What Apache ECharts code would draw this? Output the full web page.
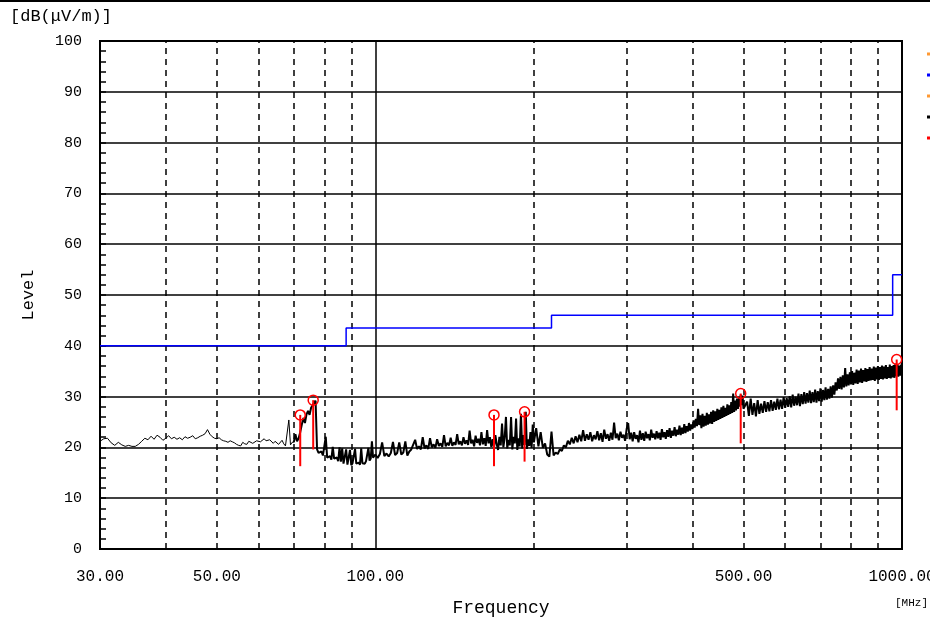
<!DOCTYPE html>
<html><head><meta charset="utf-8">
<script src="https://cdn.jsdelivr.net/npm/echarts@6/dist/echarts.min.js"></script>
<style>html,body{margin:0;padding:0;background:#fff}#c{width:930px;height:621px}</style>
</head><body><div id="c"></div>
<script>
// ---- axis / tick data ----
const yTicks = [0,10,20,30,40,50,60,70,80,90,100];
const xLabelFreqs = [30, 50, 100, 500, 1000];
const gridDashedFreqs = [40,50,60,70,80,90,200,300,400,500,600,700,800,900];
const gridSolidFreqs = [100];

// ---- limit line (MHz, dB(uV/m)) ----
const limitFreqs  = [30, 88, 88, 216, 216, 960, 960, 1000];
const limitLevels = [40, 40, 43.5, 43.5, 46, 46, 54, 54];

// ---- measured trace: receiver sweep bands (start MHz, step MHz, levels) ----
const bandAStart = 30, bandAStep = 0.5;
const bandALevels = [21.2,21.7,21.8,20.9,20.4,21.0,20.5,20.2,20.4,20.2,
 20.2,20.6,21.2,21.8,21.5,22.2,21.6,22.4,22.0,21.4,
 21.8,22.3,21.7,22.0,21.6,21.9,21.5,22.1,21.8,22.0,
 22.3,21.7,21.9,22.2,22.4,22.7,23.5,22.6,22.1,21.8,
 21.7,21.9,21.5,21.3,21.2,21.0,21.3,21.1,20.9,20.6,
 20.4,20.3,21.0,20.7,20.6,21.2,20.9,20.8,21.0,21.3,
 21.4,21.1,21.2,21.7,21.3,21.0,21.5,21.2,20.8,21.2,
 21.0,20.6,20.5,21.4,20.7,20.3,20.4,25.4,20.5,21.0];
const bandBStart = 70, bandBStep = 0.5;
const bandBLevels = [21.0,22.6,21.2,21.8,23.0,24.5,25.8,24.8,26.5,27.2,
 26.4,27.8,28.3,28.8,29.2,19.6,18.9,18.6,19.2,18.4,
 18.3,22.1,18.0,17.8,18.3,17.6,20.1,17.8,17.5,18.0,
 17.3,20.0,17.2,19.8,16.8,17.0,19.6,16.6,16.9,19.5,
 16.5,16.9,16.6,19.7,16.8,16.5,17.0,16.6,19.8,16.9,
 17.2,16.8,17.3,17.0,19.9,17.4,17.8,21.2,18.0,18.3];
const bandCStart = 100, bandCStep = 1;
const bandCLevels = [18.6,17.9,18.7,21.0,18.3,18.8,18.2,18.9,21.1,18.5,
 18.9,21.0,18.6,19.0,21.2,18.4,19.2,19.6,19.3,21.5,
 19.7,20.2,19.6,22.0,19.8,20.4,19.7,21.8,20.0,20.6,
 19.9,21.6,20.3,20.8,20.1,22.4,20.2,20.9,20.4,21.9,
 20.3,21.0,20.5,22.6,20.6,21.2,20.4,22.0,20.7,21.4,
 20.5,23.3,20.8,21.5,20.2,22.3,20.9,21.7,20.4,23.0,
 20.6,21.8,20.3,23.4,20.8,22.0,20.1,21.6,19.9,22.4,
 20.6,19.5,22.1,20.4,24.7,20.0,21.9,26.0,19.8,21.5,
 20.4,26.0,19.6,22.1,20.8,25.7,19.5,21.8,20.2,26.6,
 19.8,22.4,20.5,27.0,19.7,21.6,20.3,23.0,19.9,24.5];
const bandDStart = 200, bandDStep = 2;
const bandDLevels = [21.0,23.8,20.2,23.0,19.9,20.8,18.6,18.2,23.1,18.4,
 19.0,18.7,19.6,19.3,20.4,20.0,21.3,20.6,21.9,20.8,
 22.2,21.0,22.5,21.2,23.4,21.3,22.6,21.5,23.0,21.2,
 22.4,21.6,23.2,21.4,22.8,21.1,23.5,21.7,22.6,21.3,
 22.9,21.5,24.9,21.8,22.7,21.4,23.1,21.9,22.5,21.3,
 23.6,24.8,21.6,22.9,21.2,23.0,21.7,22.4,21.0,23.3,
 21.5,22.8,21.3,23.1,21.8,22.6,21.4,23.5,21.9,22.7,
 21.6,23.2,21.8,22.9,21.5,23.6,22.0,23.0,21.7,23.4,
 22.1,23.8,21.9,23.3,22.3,24.0,22.2,23.5,22.5,24.3,
 22.4,23.9,22.7,24.6,22.8,24.2,23.1,24.8,23.3,24.5,
 23.6,25.3,23.9,25.6,24.2,27.6,24.4,26.3,23.8,26.6,
 24.1,26.2,24.3,26.8,24.5,26.5,24.7,27.0,24.6,27.3,
 25.0,27.1,25.2,27.6,25.4,27.4,25.6,27.9,25.8,28.2,
 26.0,27.8,26.2,28.5,26.4,28.3,26.6,28.9,26.8,30.6,
 27.0,29.2,27.3,29.6,27.6,29.8,28.0,30.4,28.3,30.2,
 27.6];
const bandEStart = 504, bandEStep = 4;
const bandELevels = [27.4,29.0,26.2,29.6,
 26.4,28.7,26.1,29.3,26.6,28.6,26.8,29.1,27.0,28.9,
 27.1,29.3,27.2,29.0,27.4,29.6,27.5,29.4,27.6,29.9,
 27.8,29.7,28.0,30.1,27.9,30.4,28.2,30.0,28.3,30.6,
 28.1,30.5,28.5,30.9,28.6,30.7,28.8,31.2,28.7,30.9,
 28.9,31.4,28.8,31.1,29.1,31.6,29.0,31.3,29.3,31.8,
 29.4,31.5,29.6,32.0,29.8,32.2,30.4,32.8,31.2,33.6,
 31.5,33.9,31.4,34.2,31.8,35.6,32.0,34.4,32.2,34.8,
 32.4,35.0,32.3,34.7,32.6,35.3,32.5,35.1,32.8,35.5,
 32.7,35.2,33.0,35.6,32.9,35.4,33.1,35.8,33.2,35.5,
 33.3,35.9,33.1,35.7,33.4,36.0,33.3,35.8,33.5,36.1,
 33.4,35.9,33.6,36.2,33.5,35.8,33.7,36.3,33.6,36.0,
 33.8,36.2,33.7,36.5,34.0,36.4,33.9,36.1,34.1,36.3,
 34.4];

// ---- marker readings (red) ----
const markerFreqs  = [72.0, 76.2, 168, 192, 494, 977];
const markerPeaks  = [26.4, 29.3, 26.4, 27.0, 30.6, 37.3];
const markerLows   = [16.3, 19.6, 16.3, 17.2, 20.8, 27.3];

// ---- legend (clipped at right edge) ----
const legendNames  = ['Limit PK', 'Limit QP', 'Limit AV', 'Peak', 'QP'];
const legendColors = ['#ff9933', '#0000ff', '#ff9933', '#000000', '#ff0000'];

// ---- build ----
function sweep(start, step, levels) {
  return levels.map((v, i) => [+(start + step * i).toFixed(3), v]);
}
const traceLow = sweep(bandAStart, bandAStep, bandALevels).concat([[bandBStart, bandBLevels[0]]]);
const traceHigh = [].concat(
  sweep(bandBStart, bandBStep, bandBLevels),
  sweep(bandCStart, bandCStep, bandCLevels),
  sweep(bandDStart, bandDStep, bandDLevels),
  sweep(bandEStart, bandEStep, bandELevels)
);
const limitData = limitFreqs.map((f, i) => [f, limitLevels[i]]);
const markerData = markerFreqs.map((f, i) => [f, markerPeaks[i], markerLows[i]]);

const FONT = 'Liberation Mono';
const chart = echarts.init(document.getElementById('c'), null, {renderer: 'canvas'});

const gridLines = gridDashedFreqs.map(f => ({xAxis: f, lineStyle: {type: [6, 5], width: 1.5, color: '#000'}}))
  .concat(gridSolidFreqs.map(f => ({xAxis: f, lineStyle: {type: 'solid', width: 1.5, color: '#000'}})));

chart.setOption({
  animation: false,
  backgroundColor: '#fff',
  title: {
    text: '[dB(μV/m)]', left: 5, top: 3,
    textStyle: {fontFamily: FONT, fontSize: 17, fontWeight: 'normal', color: '#000'}
  },
  legend: {
    orient: 'vertical', left: 927, top: 47, itemGap: 7, padding: 0,
    itemWidth: 3, itemHeight: 3, icon: 'rect',
    textStyle: {fontFamily: FONT, fontSize: 12, color: '#000', lineHeight: 14},
    data: legendNames
  },
  grid: {
    left: 100, right: 28, top: 41, bottom: 72,
    outerBoundsMode: 'none', containLabel: false,
    show: true, borderColor: '#000', borderWidth: 2, backgroundColor: 'transparent'
  },
  xAxis: [{
    type: 'log', logBase: 10, min: 30, max: 1000, position: 'bottom',
    axisLine: {show: false}, axisTick: {show: false}, axisLabel: {show: false},
    splitLine: {show: false}, minorSplitLine: {show: false}
  }, {
    type: 'value', min: Math.log10(30), max: 3, position: 'bottom',
    axisLine: {show: false}, axisTick: {show: false}, splitLine: {show: false},
    name: 'Frequency', nameLocation: 'middle', nameGap: 50,
    nameTextStyle: {fontFamily: FONT, fontSize: 18, color: '#000'},
    axisLabel: {
      customValues: xLabelFreqs.map(f => Math.min(3, Math.log10(f))),
      margin: 20, fontFamily: FONT, fontSize: 16, color: '#000',
      formatter: v => Math.pow(10, v).toFixed(2)
    }
  }],
  yAxis: {
    type: 'value', min: yTicks[0], max: yTicks[yTicks.length - 1], interval: 10,
    name: 'Level', nameLocation: 'middle', nameGap: 63, nameRotate: 90,
    nameTextStyle: {fontFamily: FONT, fontSize: 17, color: '#000'},
    axisLine: {show: true, lineStyle: {color: '#000', width: 2}},
    axisTick: {show: true, inside: true, length: 6, lineStyle: {color: '#000', width: 1.5}},
    minorTick: {show: true, splitNumber: 5, length: 6, lineStyle: {color: '#000', width: 1.5}},
    axisLabel: {margin: 18, fontFamily: FONT, fontSize: 15, color: '#000'},
    splitLine: {show: true, lineStyle: {color: '#000', width: 1.5}}
  },
  graphic: [
    {type: 'rect', left: 0, top: 0, shape: {width: 930, height: 2}, style: {fill: '#000'}},
    {type: 'text', right: 2, top: 598, style: {text: '[MHz]', font: '11px "Liberation Mono"', fill: '#000'}}
  ],
  series: [
    {name: legendNames[0], type: 'line', data: [], color: legendColors[0]},
    {
      name: legendNames[1], type: 'line', data: limitData, xAxisIndex: 0,
      color: legendColors[1], showSymbol: false, symbol: 'none',
      lineStyle: {color: legendColors[1], width: 1.5}, z: 3,
      markLine: {silent: true, symbol: 'none', label: {show: false}, data: gridLines, z: 1}
    },
    {name: legendNames[2], type: 'line', data: [], color: legendColors[2]},
    {
      name: legendNames[3], type: 'line', data: traceLow, xAxisIndex: 0,
      color: legendColors[3], symbol: 'none', sampling: null,
      lineStyle: {color: '#000', width: 1}, z: 4
    },
    {
      name: legendNames[3], type: 'line', data: traceHigh, xAxisIndex: 0,
      color: legendColors[3], symbol: 'none', sampling: null,
      lineStyle: {color: '#000', width: 2}, z: 4
    },
    {
      name: legendNames[4], type: 'custom', data: markerData, xAxisIndex: 0,
      color: legendColors[4], encode: {x: 0, y: 1}, z: 5,
      renderItem: function (params, api) {
        const f = api.value(0), pk = api.value(1), lo = api.value(2);
        const top = api.coord([f, pk]);
        const bot = api.coord([f, lo]);
        return {
          type: 'group',
          children: [
            {type: 'line', shape: {x1: bot[0], y1: bot[1], x2: top[0], y2: top[1]},
             style: {stroke: '#ff0000', lineWidth: 2}},
            {type: 'circle', shape: {cx: top[0], cy: top[1], r: 5},
             style: {stroke: '#ff0000', fill: null, lineWidth: 1.5}}
          ]
        };
      }
    }
  ]
});
</script></body></html>
